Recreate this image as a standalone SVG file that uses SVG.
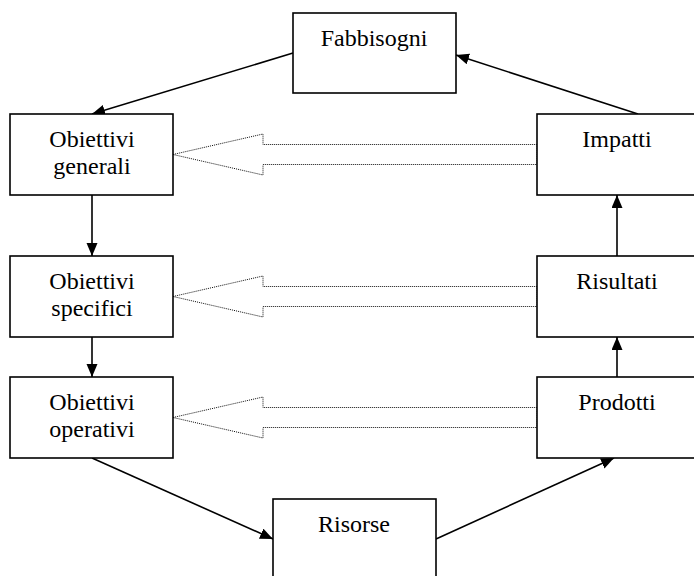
<svg xmlns="http://www.w3.org/2000/svg" width="694" height="576" viewBox="0 0 694 576">
<defs>
<style>
.box{fill:#fff;stroke:#000;stroke-width:1.6}
.lbl{font-family:"Liberation Serif","Times New Roman",serif;font-size:24px;fill:#000;text-anchor:middle}
.con{stroke:#000;stroke-width:1.6;fill:none;marker-end:url(#ah)}
.big{fill:none;stroke:#111;stroke-width:1;stroke-dasharray:1,1}
</style>
<marker id="ah" markerUnits="userSpaceOnUse" markerWidth="14" markerHeight="12" refX="13" refY="5.5" orient="auto">
<path d="M0,0 L13,5.5 L0,11 z" fill="#000"/>
</marker>
</defs>
<rect width="694" height="576" fill="#fff"/>
<g id="connectors">
<line class="con" x1="293" y1="53" x2="92" y2="114"/>
<line class="con" x1="638" y1="114" x2="456" y2="55"/>
<line class="con" x1="92" y1="195" x2="92" y2="256"/>
<line class="con" x1="92" y1="337" x2="92" y2="377"/>
<line class="con" x1="92" y1="458" x2="273" y2="539"/>
<line class="con" x1="436" y1="539" x2="614" y2="458"/>
<line class="con" x1="617" y1="377" x2="617" y2="337"/>
<line class="con" x1="617" y1="256" x2="617" y2="195"/>
<polygon class="big" points="173,154.5 263,134 263,144.5 537,144.5 537,164.5 263,164.5 263,175"/>
<polygon class="big" points="173,296.5 263,276 263,286.5 537,286.5 537,306.5 263,306.5 263,317"/>
<polygon class="big" points="173,417.5 263,397 263,407.5 537,407.5 537,427.5 263,427.5 263,438"/>
</g>
<g id="fabbisogni"><rect class="box" x="293" y="13" width="163" height="80"/><text class="lbl" x="374" y="46">Fabbisogni</text></g>
<g id="obiettivi-generali"><rect class="box" x="10" y="114" width="163" height="81"/><text class="lbl" x="92" y="147">Obiettivi</text><text class="lbl" x="92" y="174">generali</text></g>
<g id="obiettivi-specifici"><rect class="box" x="10" y="256" width="163" height="81"/><text class="lbl" x="92" y="289">Obiettivi</text><text class="lbl" x="92" y="316">specifici</text></g>
<g id="obiettivi-operativi"><rect class="box" x="10" y="377" width="163" height="81"/><text class="lbl" x="92" y="410">Obiettivi</text><text class="lbl" x="92" y="437">operativi</text></g>
<g id="impatti"><rect class="box" x="537" y="114" width="163" height="81"/><text class="lbl" x="617" y="147">Impatti</text></g>
<g id="risultati"><rect class="box" x="537" y="256" width="163" height="81"/><text class="lbl" x="617" y="289">Risultati</text></g>
<g id="prodotti"><rect class="box" x="537" y="377" width="163" height="81"/><text class="lbl" x="617" y="410">Prodotti</text></g>
<g id="risorse"><rect class="box" x="273" y="499" width="163" height="82"/><text class="lbl" x="354" y="532">Risorse</text></g>
</svg>
